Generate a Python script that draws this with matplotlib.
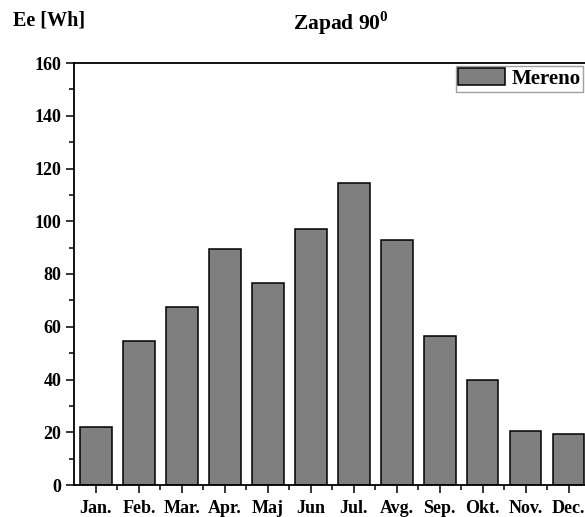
import numpy as np
import matplotlib
matplotlib.use("Agg")
import matplotlib.pyplot as plt
from matplotlib.ticker import MultipleLocator

# monthly measured energy, west facade 90 deg
months = ["Jan.", "Feb.", "Mar.", "Apr.", "Maj", "Jun", "Jul.", "Avg.", "Sep.", "Okt.", "Nov.", "Dec."]
mereno = [22, 54.5, 67.5, 89.5, 76.5, 97, 114.5, 93, 56.5, 40, 20.5, 19.5]
yticks = [0, 20, 40, 60, 80, 100, 120, 140, 160]

plt.rcParams['font.family'] = ['Liberation Serif', 'DejaVu Serif']
plt.rcParams['font.weight'] = 'bold'
plt.rcParams['mathtext.fontset'] = 'custom'
plt.rcParams['mathtext.rm'] = 'Liberation Serif:bold'
plt.rcParams['mathtext.bf'] = 'Liberation Serif:bold'

fig = plt.figure(figsize=(5.85, 5.17), dpi=100)
# right edge of the axes runs past the picture, like in the original
ax = fig.add_axes([74 / 585, 1 - 485 / 517, 516 / 585, 422 / 517])

x = np.arange(len(months))
ax.bar(x, mereno, width=0.74, color="#7f7f7f", edgecolor="black", linewidth=1.1, label="Mereno")

ax.set_xlim(-0.51, 11.5)
ax.set_ylim(0, 160)
ax.set_yticks(yticks)
ax.yaxis.set_minor_locator(MultipleLocator(10))
ax.set_xticks(x)
ax.set_xticklabels(months)
ax.set_xticks(x[:-1] + 0.5, minor=True)

ax.tick_params(axis="both", which="major", direction="out", length=6, width=1.1, labelsize=13, pad=3)
ax.tick_params(axis="both", which="minor", direction="out", length=3.5, width=1.1)
ax.tick_params(axis="x", which="major", pad=5)
for lab in ax.get_xticklabels() + ax.get_yticklabels():
    lab.set_fontweight("bold")
for s in ax.spines.values():
    s.set_linewidth(1.3)

fig.text(13 / 585, 1 - 25 / 517, "Ee [Wh]", fontsize=14.5, fontweight="bold", va="baseline", ha="left")
fig.text(341 / 585, 1 - 30 / 517, r"Zapad 90$^{\mathbf{0}}$", fontsize=15.5, fontweight="bold",
         va="baseline", ha="center")

leg = ax.legend(loc="upper right", bbox_to_anchor=(583 / 585, 1 - 66 / 517), bbox_transform=fig.transFigure,
                fontsize=15, frameon=True, fancybox=False, handlelength=2.25, handleheight=0.85,
                borderpad=0.12, handletextpad=0.3, borderaxespad=0)
leg.get_frame().set_edgecolor("#888888")
leg.get_frame().set_linewidth(1.0)
for t in leg.get_texts():
    t.set_fontweight("bold")

fig.savefig("out.png", dpi=100)
